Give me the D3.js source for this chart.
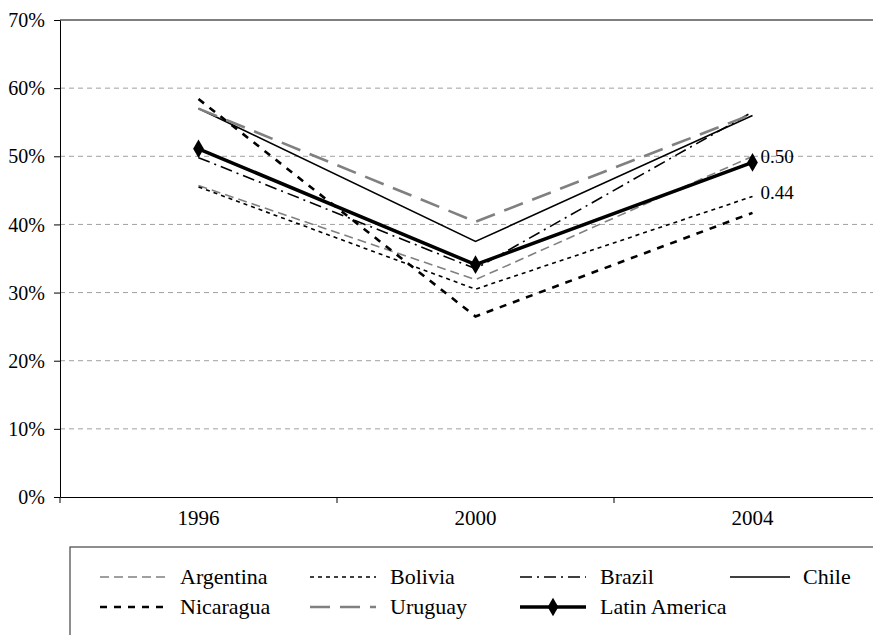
<!DOCTYPE html>
<html><head><meta charset="utf-8">
<script src="https://cdn.jsdelivr.net/npm/d3@7"></script>
</head><body style="margin:0"><svg id="c" width="873" height="635" font-family="Liberation Serif"></svg>
<script>
const years = ["1996","2000","2004"];
const yTicks = [0,0.1,0.2,0.3,0.4,0.5,0.6,0.7];
const argentina = [0.457,0.319,0.500];
const bolivia = [0.455,0.305,0.441];
const brazil = [0.498,0.335,0.565];
const chile = [0.570,0.375,0.560];
const nicaragua = [0.584,0.265,0.417];
const uruguay = [0.570,0.404,0.562];
const latinAmerica = [0.511,0.341,0.491];
const endLabels = [{text:"0.50", v:0.499},{text:"0.44", v:0.446}];

const series = [
  {name:"Argentina", values:argentina, color:"#808080", width:1.6, dash:"9,5"},
  {name:"Bolivia", values:bolivia, color:"#000", width:1.6, dash:"4,4"},
  {name:"Brazil", values:brazil, color:"#000", width:1.6, dash:"12,5,2,5"},
  {name:"Chile", values:chile, color:"#000", width:1.6, dash:null},
  {name:"Nicaragua", values:nicaragua, color:"#000", width:2.6, dash:"7,7"},
  {name:"Uruguay", values:uruguay, color:"#808080", width:2.6, dash:"20,10"},
  {name:"Latin America", values:latinAmerica, color:"#000", width:3.5, dash:null, marker:true}
];

const svg = d3.select("#c");
const L=60, T=20, B=497, R=891;
const x = d3.scaleBand().domain(years).range([L,R]);
const y = d3.scaleLinear().domain([0,0.7]).range([B,T]);

svg.append("g").selectAll("line").data(yTicks.filter(d=>d>0&&d<0.7)).join("line")
  .attr("x1",L).attr("x2",R).attr("y1",d=>y(d)).attr("y2",d=>y(d))
  .attr("stroke","#a0a0a0").attr("stroke-dasharray","5,4").attr("stroke-width",1);
svg.append("line").attr("x1",L).attr("x2",R).attr("y1",y(0.7)).attr("y2",y(0.7)).attr("stroke","#000").attr("stroke-width",1);

const ya = svg.append("g").attr("transform",`translate(${L},0)`)
  .call(d3.axisLeft(y).tickValues(yTicks).tickFormat(d3.format(".0%")).tickSize(6).tickSizeOuter(0));
ya.attr("font-family","Liberation Serif").attr("font-size",20);
ya.select(".domain").attr("stroke","#000");
ya.selectAll("line").attr("stroke","#000");
ya.selectAll("text").attr("font-family","Liberation Serif").attr("font-size",20).attr("fill","#000").attr("x",-15).attr("dy","0.33em");

const xa = svg.append("g").attr("transform",`translate(0,${B})`)
  .call(d3.axisBottom(x).tickSize(0).tickSizeOuter(0));
xa.attr("font-family","Liberation Serif").attr("font-size",21);
xa.select(".domain").attr("stroke","#000");
xa.selectAll("text").attr("font-family","Liberation Serif").attr("font-size",21).attr("fill","#000").attr("y",0).attr("dy","1.35em");
svg.append("g").selectAll("line").data(years).join("line")
  .attr("x1",d=>x(d)).attr("x2",d=>x(d)).attr("y1",B).attr("y2",B+6).attr("stroke","#000");

const cx = d=>x(d)+x.bandwidth()/2;
const line = d3.line().x((v,i)=>cx(years[i])).y(v=>y(v));

svg.append("g").selectAll("path").data(series).join("path")
  .attr("d",s=>line(s.values)).attr("fill","none")
  .attr("stroke",s=>s.color).attr("stroke-width",s=>s.width)
  .attr("stroke-dasharray",s=>s.dash).attr("stroke-linejoin","miter");

const diamond = d3.symbol().type(d3.symbolDiamond).size(100);
series.filter(s=>s.marker).forEach(s=>{
  svg.append("g").selectAll("path").data(s.values).join("path")
    .attr("d",diamond).attr("transform",(v,i)=>`translate(${cx(years[i])},${y(v)})`).attr("fill","#000");
});

svg.append("g").selectAll("text").data(endLabels).join("text")
  .attr("x",cx("2004")+8).attr("y",d=>y(d.v)).attr("dy","0.33em")
  .attr("font-family","Liberation Serif").attr("font-size",19).attr("fill","#000").text(d=>d.text);

svg.append("rect").attr("x",70).attr("y",547).attr("width",850).attr("height",120)
  .attr("fill","none").attr("stroke","#444").attr("stroke-width",1.2);
const colX=[100,310,520,730], rowY=[577,607];
series.forEach((s,i)=>{
  const col=i<4?i:i-4, row=i<4?0:1;
  const g=svg.append("g").attr("transform",`translate(${colX[col]},${rowY[row]})`);
  g.append("line").attr("x1",0).attr("x2",(s.name==="Chile")?60:66).attr("y1",0).attr("y2",0)
    .attr("stroke",s.color).attr("stroke-width",s.width).attr("stroke-dasharray",s.dash);
  if(s.marker) g.append("path").attr("d",diamond).attr("transform","translate(33,0)").attr("fill","#000");
  g.append("text").attr("x",(s.name==="Chile")?73:80).attr("y",0).attr("dy","0.33em")
    .attr("font-family","Liberation Serif").attr("font-size",22).attr("fill","#000").text(s.name);
});
</script></body></html>
